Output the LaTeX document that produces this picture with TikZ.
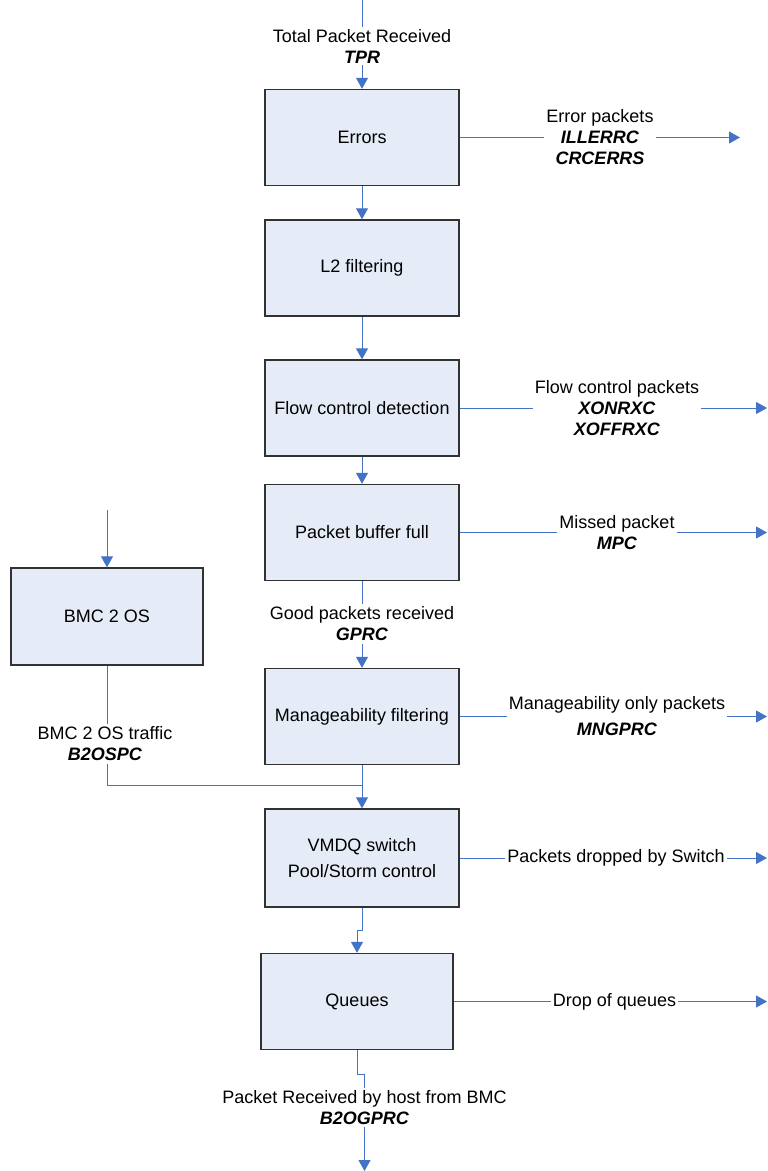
\documentclass[tikz,border=0pt]{standalone}
\usepackage{fontspec}
\setmainfont{Liberation Sans}
\usetikzlibrary{arrows.meta}
\definecolor{lineblue}{RGB}{68,114,196}
\definecolor{boxfill}{RGB}{230,236,247}
\definecolor{boxline}{RGB}{50,50,50}
\newcommand{\cnt}[1]{\textbf{\textit{#1}}}
\begin{document}
\begin{tikzpicture}[x=0.5pt,y=-0.5pt,
  conn/.style={draw=lineblue, line width=0.5pt},
  arr/.style={conn, -{Triangle[width=6pt,length=5.5pt]}},
  box/.style={draw=boxline, fill=boxfill, line width=0.7pt, minimum width=97pt, minimum height=48pt, align=center, inner sep=2pt, font=\fontsize{9}{10.5}\selectfont},
  lbl/.style={align=center, inner sep=1pt, font=\fontsize{9}{10.5}\selectfont}]
\useasboundingbox (0,0) rectangle (767,1171);
% boxes
\node[box] (errors) at (362,137.5) {Errors};
\node[box] (l2) at (362,268) {L2 filtering};
\node[box] (flow) at (362,408) {Flow control detection};
\node[box] (pbf) at (362,532.5) {Packet buffer full};
\node[box] (mng) at (362,716.5) {Manageability filtering};
\node[box, minimum height=49pt] (vmdq) at (362,858) {VMDQ switch\\[2.5pt]Pool/Storm control};
\node[box, minimum width=96pt] (queues) at (357,1001.5) {Queues};
\node[box, minimum width=96pt, minimum height=48.5pt] (bmc) at (107,616.5) {BMC 2 OS};
% labels
\node[lbl] (tprl) at (362,46) {Total Packet Received\\\cnt{TPR}};
\node[lbl] (errl) at (600,137.5) {Error packets\\\cnt{ILLERRC}\\\cnt{CRCERRS}};
\node[lbl] (flowl) at (617,408) {Flow control packets\\\cnt{XONRXC}\\\cnt{XOFFRXC}};
\node[lbl] (mpcl) at (617,532.5) {Missed packet\\\cnt{MPC}};
\node[lbl] (gprcl) at (362,624) {Good packets received\\\cnt{GPRC}};
\node[lbl] (mngl) at (617,716.5) {Manageability only packets\\[2.5pt]\cnt{MNGPRC}};
\node[lbl] (bmcl) at (105,744) {BMC 2 OS traffic\\\cnt{B2OSPC}};
\node[lbl] (swl) at (616,858) {Packets dropped by Switch};
\node[lbl] (dql) at (614.5,1001.5) {Drop of queues};
\node[lbl] (hostl) at (364.5,1107.5) {Packet Received by host from BMC\\\cnt{B2OGPRC}};
% free ends
\coordinate (in) at (362,0);
\coordinate (errout) at (740,137.5);
\coordinate (flowout) at (767,408);
\coordinate (mpcout) at (767,532.5);
\coordinate (mngout) at (767,716.5);
\coordinate (swout) at (767,858);
\coordinate (dqout) at (767,1001.5);
\coordinate (bmcin) at (107,510);
\coordinate (join) at (362,785);
\coordinate (hostout) at (364.5,1171);
% main flow
\draw[conn] (in) -- (tprl.north);
\draw[arr] (tprl.south) -- (errors.north);
\draw[arr] (errors) -- (l2);
\draw[arr] (l2) -- (flow);
\draw[arr] (flow) -- (pbf);
\draw[conn] (pbf.south) -- (gprcl.north);
\draw[arr] (gprcl.south) -- (mng.north);
\draw[arr] (mng.south) -- (vmdq.north);
\draw[arr] (vmdq.south) -- ++(0,23) -| (queues.north);
\draw[conn] (queues.south) -- ++(0,24) -| (hostl.north);
\draw[arr] (hostl.south) -- (hostout);
% BMC
\draw[arr] (bmcin) -- (bmc.north);
\draw[conn] (bmc.south) -- (bmc.south |- bmcl.north);
\draw[conn] (bmc.south |- bmcl.south) |- (join);
% side outputs
\draw[conn] (errors.east) -- (errl.west);
\draw[arr] (errl.east) -- (errout);
\draw[conn] (flow.east) -- (flowl.west);
\draw[arr] (flowl.east) -- (flowout);
\draw[conn] (pbf.east) -- (mpcl.west);
\draw[arr] (mpcl.east) -- (mpcout);
\draw[conn] (mng.east) -- (mngl.west);
\draw[arr] (mngl.east) -- (mngout);
\draw[conn] (vmdq.east) -- (swl.west);
\draw[arr] (swl.east) -- (swout);
\draw[conn] (queues.east) -- (dql.west);
\draw[arr] (dql.east) -- (dqout);
\end{tikzpicture}
\end{document}
